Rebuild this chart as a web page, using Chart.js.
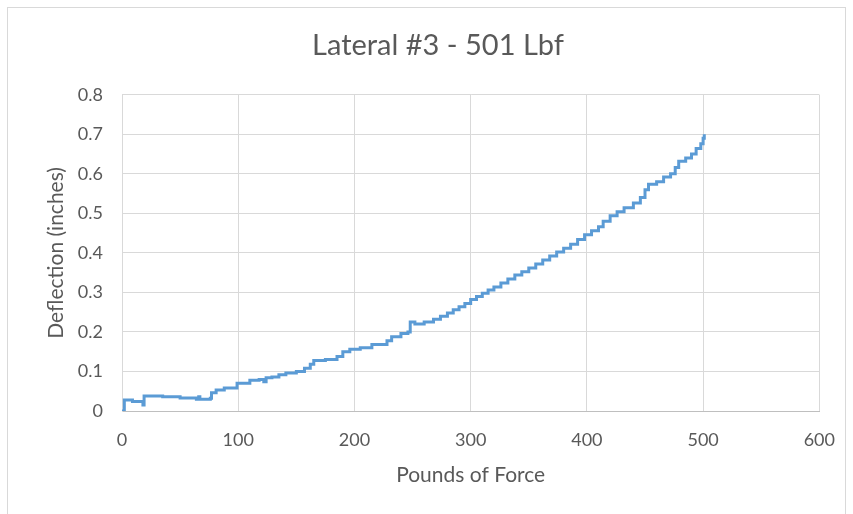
<!DOCTYPE html>
<html>
<head>
<meta charset="utf-8">
<script src="https://cdn.jsdelivr.net/npm/chart.js@4/dist/chart.umd.min.js"></script>
<style>
  html, body { margin: 0; padding: 0; background: #fff; }
  #wrap { width: 853px; height: 514px; }
</style>
</head>
<body>
<div id="wrap"><canvas id="lateralChart" width="853" height="514"></canvas></div>
<script>
// force (lbf) where the reading changes, and deflection (in) from that point on
const forceLbf = [0, 2, 9, 18, 19, 35, 50, 64, 66, 67, 76, 77, 81, 88, 99, 110, 118, 122, 124, 129,
  135, 141, 150, 157, 162, 165, 175, 185, 190, 196, 205, 215, 228, 232, 240, 246, 248, 252, 260, 268,
  274, 280, 285, 290, 295, 300, 305, 310, 315, 320, 326, 332, 338, 344, 350, 356, 362, 368, 374, 380,
  386, 392, 398, 404, 410, 414, 420, 426, 432, 440, 446, 450, 453, 460, 466, 472, 476, 479, 485, 490,
  494, 498, 500, 501];
const deflectionIn = [0, 0.028, 0.024, 0.015, 0.038, 0.036, 0.033, 0.030, 0.036, 0.030, 0.032, 0.046, 0.053, 0.058, 0.070, 0.078, 0.080, 0.074, 0.084, 0.086,
  0.092, 0.096, 0.100, 0.108, 0.118, 0.128, 0.130, 0.138, 0.150, 0.156, 0.160, 0.168, 0.178, 0.188, 0.196, 0.200, 0.225, 0.220, 0.225, 0.232,
  0.240, 0.248, 0.256, 0.264, 0.272, 0.282, 0.290, 0.298, 0.306, 0.314, 0.324, 0.334, 0.344, 0.352, 0.362, 0.372, 0.382, 0.392, 0.402, 0.412,
  0.422, 0.434, 0.446, 0.456, 0.466, 0.480, 0.494, 0.504, 0.514, 0.526, 0.540, 0.560, 0.574, 0.580, 0.592, 0.600, 0.616, 0.632, 0.640, 0.650,
  0.664, 0.676, 0.690, 0.700];

const xTicks = [0, 100, 200, 300, 400, 500, 600];
const yTicks = [0, 0.1, 0.2, 0.3, 0.4, 0.5, 0.6, 0.7, 0.8];

const chartTitle = 'Lateral #3 - 501 Lbf';
const xTitle = 'Pounds of Force';
const yTitle = 'Deflection (inches)';

const textColor = '#595959';
const gridColor = '#d9d9d9';
const fontFamily = 'Lato, "Open Sans", sans-serif';

// thin frame round the whole chart, like the spreadsheet export
const framePlugin = {
    id: 'frame',
    afterLayout(chart) {
        // title sits a bit right of the canvas centre in the original
        if (chart.titleBlock) {
            chart.titleBlock.left += 24;
            chart.titleBlock.right += 24;
        }
    },
    beforeDraw(chart) {
        const ctx = chart.ctx;
        ctx.save();
        ctx.fillStyle = '#fff';
        ctx.fillRect(0, 0, chart.width, chart.height);
        ctx.strokeStyle = '#d9d9d9';
        ctx.lineWidth = 1;
        ctx.strokeRect(7.5, 7.5, 838, 520);
        ctx.restore();
    }
};

const points = forceLbf.map((f, i) => ({ x: f, y: deflectionIn[i] }));

new Chart(document.getElementById('lateralChart'), {
    type: 'scatter',
    data: {
        datasets: [{
            label: chartTitle,
            data: points,
            showLine: true,
            stepped: true,
            borderColor: '#5b9bd5',
            backgroundColor: '#5b9bd5',
            borderWidth: 3,
            pointRadius: 0
        }]
    },
    options: {
        responsive: false,
        animation: false,
        layout: { padding: { left: 0, right: 25, top: 0, bottom: 0 } },
        plugins: {
            legend: { display: false },
            tooltip: { enabled: false },
            title: {
                display: true,
                text: chartTitle,
                color: textColor,
                font: { family: fontFamily, size: 29, weight: 'normal' },
                padding: { top: 28, bottom: 32 }
            }
        },
        scales: {
            x: {
                type: 'linear',
                min: 0,
                max: 600,
                afterBuildTicks: (scale) => { scale.ticks = xTicks.map(v => ({ value: v })); },
                afterFit: (scale) => { scale.height = 103; },
                grid: { color: gridColor, drawTicks: false },
                border: { color: '#bfbfbf' },
                ticks: {
                    color: textColor,
                    padding: 18,
                    font: { family: fontFamily, size: 18 }
                },
                title: {
                    display: true,
                    text: xTitle,
                    color: textColor,
                    font: { family: fontFamily, size: 21 },
                    padding: { top: 0, bottom: 26 }
                }
            },
            y: {
                type: 'linear',
                min: 0,
                max: 0.8,
                afterBuildTicks: (scale) => { scale.ticks = yTicks.map(v => ({ value: v })); },
                afterFit: (scale) => { scale.width = 122; },
                grid: { color: gridColor, drawTicks: false },
                border: { color: gridColor },
                ticks: {
                    color: textColor,
                    padding: 19,
                    font: { family: fontFamily, size: 18 },
                    callback: (v) => (v === 0 ? '0' : v.toFixed(1))
                },
                title: {
                    display: true,
                    text: yTitle,
                    color: textColor,
                    font: { family: fontFamily, size: 21 },
                    padding: { top: 44, bottom: 0 }
                }
            }
        }
    },
    plugins: [framePlugin]
});
</script>
</body>
</html>
